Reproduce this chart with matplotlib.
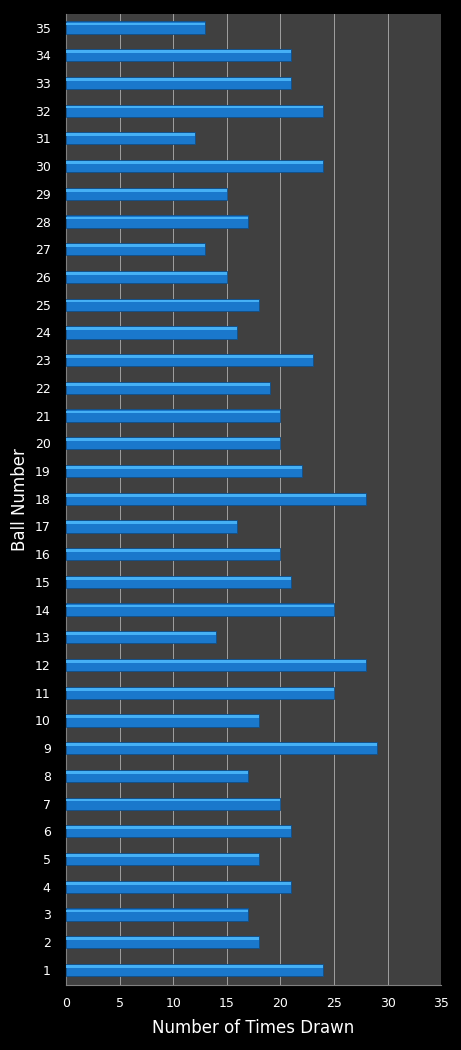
import numpy as np
import matplotlib.pyplot as plt

balls = list(range(1, 36))
times_drawn = [24, 18, 17, 21, 18, 21, 20, 17, 29, 18,
               25, 28, 14, 25, 21, 20, 16, 28, 22, 20,
               20, 19, 23, 16, 18, 15, 13, 17, 15, 24,
               12, 24, 21, 21, 13]
x_ticks = [0, 5, 10, 15, 20, 25, 30, 35]

fig = plt.figure(figsize=(4.61, 10.5), dpi=100, facecolor='black')
ax = fig.add_axes([0.143, 0.062, 0.814, 0.925])
ax.set_facecolor('#404040')

# main bar body, then a lighter strip on top for the bevel look
ax.barh(balls, times_drawn, height=0.44, color='#1a78cc', edgecolor='#10508a',
        linewidth=0.6, zorder=3)
ax.barh(np.array(balls) + 0.13, times_drawn, height=0.1, color='#45b0f5',
        linewidth=0, zorder=4)

ax.set_xlim(0, 35)
ax.set_ylim(0.46, 35.5)
ax.set_xticks(x_ticks)
ax.set_yticks(balls)
ax.tick_params(colors='white', labelsize=9, length=0)
ax.tick_params(axis='y', pad=11)
ax.tick_params(axis='x', pad=9)
ax.grid(axis='x', color='#a0a0a0', linewidth=0.7, zorder=1)
for s in ax.spines.values():
    s.set_visible(False)
ax.spines['bottom'].set_visible(True)
ax.spines['bottom'].set_color('#808080')
ax.spines['left'].set_visible(True)
ax.spines['left'].set_color('#808080')

ax.set_xlabel('Number of Times Drawn', color='white', fontsize=12, labelpad=6)
ax.set_ylabel('Ball Number', color='white', fontsize=12, labelpad=4)

fig.savefig('out.png', dpi=100, facecolor='black')
